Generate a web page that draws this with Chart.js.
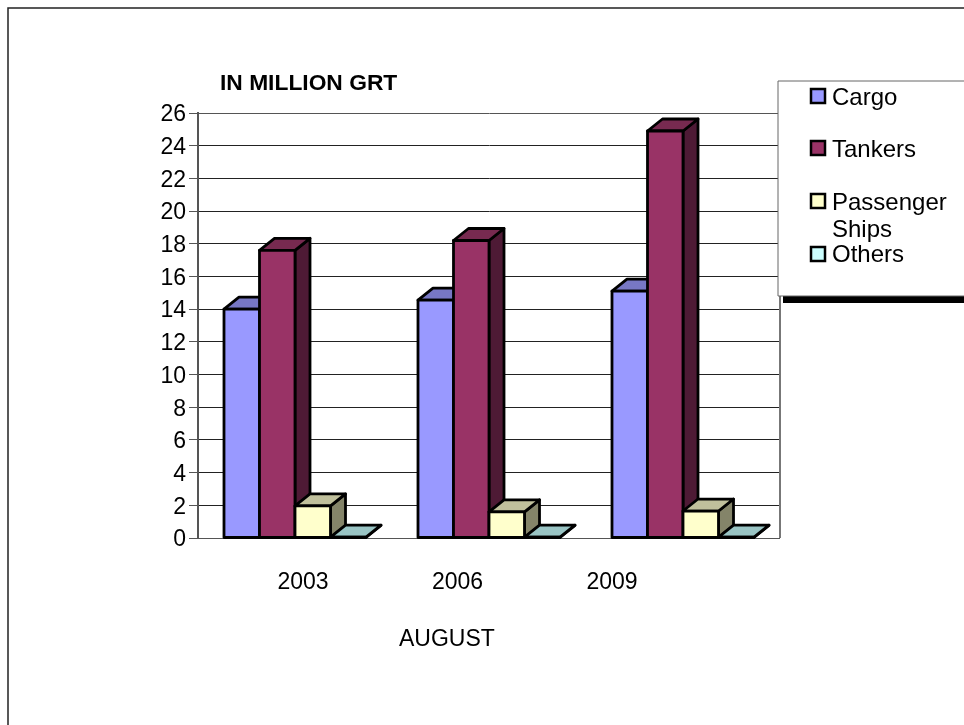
<!DOCTYPE html>
<html>
<head>
<meta charset="utf-8">
<title>IN MILLION GRT</title>
<script src="https://cdn.jsdelivr.net/npm/chart.js@4"></script>
<style>
  html, body { margin: 0; padding: 0; background: #fff; overflow: hidden; }
  canvas { display: block; }
</style>
</head>
<body>
<canvas id="chart" width="964" height="725"></canvas>
<script>
const categories = ["2003", "2006", "2009"];
const cargo = [14.0, 14.55, 15.1];
const tankers = [17.6, 18.2, 24.9];
const passengerShips = [1.96, 1.6, 1.65];
const others = [0.05, 0.05, 0.05];
const yTicks = [0, 2, 4, 6, 8, 10, 12, 14, 16, 18, 20, 22, 24, 26];

const font = "Liberation Sans, Arial, sans-serif";
const depthX = 15;
const depthY = -12;

// top and side faces are just the front colour made darker
const faces = [
  { front: "#9999ff", top: "#7777c4", side: "#5c5c99" },
  { front: "#993366", top: "#772a50", side: "#4e1a35" },
  { front: "#ffffcc", top: "#c0c09c", side: "#848469" },
  { front: "#ccffff", top: "#99c4c4", side: "#7a9999" },
];

function poly(ctx, pts, fill) {
  ctx.beginPath();
  pts.forEach((p, i) => (i ? ctx.lineTo(p[0], p[1]) : ctx.moveTo(p[0], p[1])));
  ctx.closePath();
  ctx.fillStyle = fill;
  ctx.fill();
  ctx.stroke();
}

// chart.js paints the last dataset first, here the bars must overlap left to right,
// so the plugin takes over: depth of a series from the bar elements, then its fronts
const depthPlugin = {
  id: "depth",
  beforeDatasetsDraw(chart) {
    const ctx = chart.ctx;
    chart.data.datasets.forEach((ds, i) => {
      const meta = chart.getDatasetMeta(i);
      const f = faces[i];
      ctx.save();
      ctx.strokeStyle = "#000";
      ctx.lineWidth = 2.8;
      ctx.lineJoin = "round";
      meta.data.forEach((bar) => {
        const l = bar.x - bar.width / 2;
        const r = bar.x + bar.width / 2;
        const t = bar.y;
        const b = bar.base;
        poly(ctx, [[r, t], [r + depthX, t + depthY], [r + depthX, b + depthY], [r, b]], f.side);
        poly(ctx, [[l, t], [l + depthX, t + depthY], [r + depthX, t + depthY], [r, t]], f.top);
      });
      meta.controller.draw();
      // outline centred on the edge, bar borders would double up between neighbours
      meta.data.forEach((bar) => {
        ctx.strokeRect(bar.x - bar.width / 2, bar.y, bar.width, bar.base - bar.y);
      });
      ctx.restore();
    });
    return false;
  },
};

const framePlugin = {
  id: "frame",
  beforeDraw(chart) {
    const ctx = chart.ctx;
    ctx.save();
    ctx.fillStyle = "#fff";
    ctx.fillRect(0, 0, chart.width, chart.height);
    ctx.strokeStyle = "#222";
    ctx.lineWidth = 1.5;
    ctx.beginPath();
    ctx.moveTo(964, 8);
    ctx.lineTo(8, 8);
    ctx.lineTo(8, 725);
    ctx.stroke();
    ctx.restore();
  },
  beforeDatasetsDraw(chart) {
    const ctx = chart.ctx;
    const a = chart.chartArea;
    ctx.save();
    ctx.strokeStyle = "#777";
    ctx.lineWidth = 2;
    ctx.beginPath();
    ctx.moveTo(a.right, a.top);
    ctx.lineTo(a.right, a.bottom);
    ctx.stroke();
    ctx.restore();
  },
  afterDraw(chart) {
    const ctx = chart.ctx;
    ctx.save();
    ctx.fillStyle = "#000";
    ctx.textBaseline = "alphabetic";
    ctx.font = "bold 22.8px " + font;
    ctx.fillText("IN MILLION GRT", 220, 90);
    ctx.font = "23px " + font;
    ctx.fillText("AUGUST", 399, 646);

    // legend box
    ctx.fillRect(783, 296, 181, 7);
    ctx.fillStyle = "#fff";
    ctx.fillRect(778, 81, 186, 215);
    ctx.strokeStyle = "#666";
    ctx.lineWidth = 1;
    ctx.beginPath();
    ctx.moveTo(964, 81);
    ctx.lineTo(778, 81);
    ctx.lineTo(778, 296);
    ctx.lineTo(964, 296);
    ctx.stroke();

    const rows = [
      { top: 89, lines: [["Cargo", 105]] },
      { top: 141, lines: [["Tankers", 157]] },
      { top: 194, lines: [["Passenger", 210], ["Ships", 237]] },
      { top: 247, lines: [["Others", 262]] },
    ];
    ctx.strokeStyle = "#000";
    ctx.lineWidth = 2.5;
    ctx.font = "24px " + font;
    rows.forEach((row, i) => {
      ctx.fillStyle = faces[i].front;
      ctx.fillRect(811, row.top, 14, 14);
      ctx.strokeRect(811, row.top, 14, 14);
      ctx.fillStyle = "#000";
      row.lines.forEach((l) => ctx.fillText(l[0], 832, l[1]));
    });
    ctx.restore();
  },
};

const barStyle = {
  borderWidth: 0,
  barPercentage: 1,
  categoryPercentage: 0.732,
};

new Chart(document.getElementById("chart"), {
  type: "bar",
  data: {
    labels: categories,
    datasets: [
      { label: "Cargo", data: cargo, backgroundColor: faces[0].front, ...barStyle },
      { label: "Tankers", data: tankers, backgroundColor: faces[1].front, ...barStyle },
      { label: "Passenger Ships", data: passengerShips, backgroundColor: faces[2].front, ...barStyle },
      { label: "Others", data: others, backgroundColor: faces[3].front, ...barStyle },
    ],
  },
  plugins: [framePlugin, depthPlugin],
  options: {
    responsive: false,
    animation: false,
    devicePixelRatio: 1,
    layout: { padding: { top: 113, right: 184, bottom: 0, left: 0 } },
    plugins: { legend: { display: false }, title: { display: false }, tooltip: { enabled: false } },
    scales: {
      x: {
        grid: { display: false },
        border: { display: false },
        ticks: { display: false },
        afterFit: (s) => { s.height = 0; },
      },
      // the year labels do not sit under the bar groups in the original,
      // so they get their own axis
      years: {
        type: "linear",
        position: "bottom",
        offset: false,
        min: -0.68,
        max: 3.087,
        grid: { display: false, offset: false },
        border: { display: false },
        afterBuildTicks: (s) => { s.ticks = categories.map((c, i) => ({ value: i })); },
        ticks: {
          autoSkip: false,
          maxRotation: 0,
          padding: 23,
          color: "#000",
          font: { family: font, size: 23 },
          callback: (v) => categories[v],
        },
        afterFit: (s) => { s.height = 187; },
      },
      y: {
        min: 0,
        max: 26,
        afterBuildTicks: (s) => { s.ticks = yTicks.map((v) => ({ value: v })); },
        afterFit: (s) => { s.width = 198; },
        border: { color: "#555", width: 2 },
        grid: {
          tickLength: 9,
          lineWidth: 1,
          color: (c) => (c.tick.value === 0 || c.tick.value === 26 ? "#555" : "#222"),
          tickColor: "#555",
        },
        ticks: {
          padding: 3,
          labelOffset: 2,
          color: "#000",
          font: { family: font, size: 23 },
        },
      },
    },
  },
});
</script>
</body>
</html>
